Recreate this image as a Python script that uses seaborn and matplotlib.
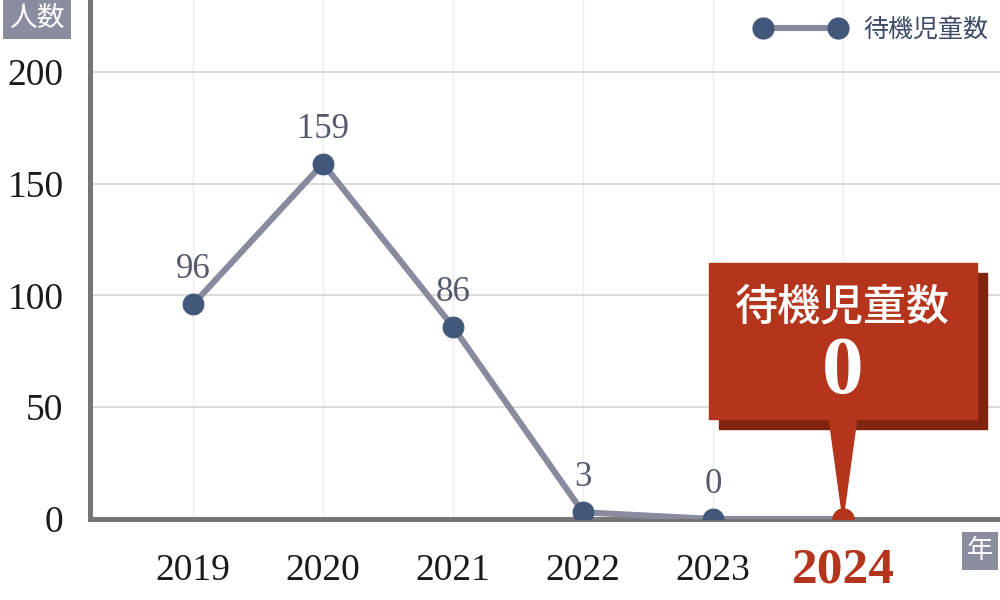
# 待機児童数の推移 (2019-2024)

import matplotlib
matplotlib.use("Agg")
import matplotlib.pyplot as plt
from matplotlib.patches import Rectangle, Polygon
from matplotlib.lines import Line2D
import pandas as pd
import seaborn as sns

# data
years = ["2019", "2020", "2021", "2022", "2023", "2024"]
waiting = [96, 159, 86, 3, 0, 0]
y_ticks = [0, 50, 100, 150, 200]
series_name = "待機児童数"

df = pd.DataFrame({"pos": range(len(years)), "year": years, "count": waiting})

sns.set_style("white")
plt.rcParams["font.family"] = ["Liberation Serif", "Noto Sans CJK JP"]

LINE = "#888a9e"
DOT = "#42587a"
RED = "#b5341c"
SHADOW = "#80240e"
SPINE = "#767676"
LABEL = "#545a6c"

fig = plt.figure(figsize=(10, 6), dpi=100)
ax = fig.add_axes([0.09, 81 / 600, 0.91, 519 / 600])

# faint grid
for i in df["pos"]:
    ax.axvline(i, color="#eeeeee", lw=1, zorder=0)
for t in y_ticks[1:]:
    ax.axhline(t, color="#d6d6d6", lw=1.2, zorder=0)

sns.lineplot(data=df, x="pos", y="count", ax=ax, color=LINE, lw=4.4,
             marker="o", markersize=15, markerfacecolor=DOT,
             markeredgecolor=DOT, zorder=3)
last = df.iloc[[-1]]
sns.scatterplot(data=last, x="pos", y="count", ax=ax, color=RED, s=220,
                edgecolor=RED, zorder=4)

# value labels
for _, r in df.iloc[:-1].iterrows():
    ax.annotate(str(r["count"]), (r["pos"], r["count"]), xytext=(0, 13),
                textcoords="offset points", ha="center", va="bottom",
                fontsize=25, color=LABEL, family="Liberation Serif")

ax.set_xlim(-0.792, 6.208)
ax.set_ylim(0, 232.2)
ax.set_xticks(df["pos"])
ax.set_xticklabels(years)
ax.set_yticks(y_ticks)
ax.set_xlabel("")
ax.set_ylabel("")
ax.tick_params(axis="both", length=0, labelsize=27, labelcolor="#1a1a1a")
ax.tick_params(axis="y", pad=19)
ax.tick_params(axis="x", pad=37)
for lab in ax.get_xticklabels():
    lab.set_va("center")
    if lab.get_text() == "2024":
        lab.set_color(RED)
        lab.set_fontweight("bold")
        lab.set_fontsize(37)

for s in ["top", "right"]:
    ax.spines[s].set_visible(False)
for s in ["left", "bottom"]:
    ax.spines[s].set_color(SPINE)
    ax.spines[s].set_linewidth(3.6)
    ax.spines[s].set_zorder(2)

# legend
handle = Line2D([], [], color=LINE, lw=4.4, marker="o", markersize=15,
                markerfacecolor=DOT, markeredgecolor=DOT)
leg = ax.legend([handle], [series_name], loc="upper right", numpoints=2,
                handlelength=3.6, handletextpad=0.75, frameon=False,
                bbox_to_anchor=(1.0, 0.99), borderaxespad=0.05,
                prop={"family": "Noto Sans CJK JP", "size": 18})
for t in leg.get_texts():
    t.set_color("#3c4a66")

# callout above the 2024 point (pixel coords)
fig.canvas.draw()
px, py = ax.transData.transform((df["pos"].iloc[-1], df["count"].iloc[-1]))
bw, bh = 268, 156
bx, by = px - bw / 2, py + 100
fig.add_artist(Rectangle((bx + 10, by - 10), bw, bh, transform=None,
                         color=SHADOW, zorder=5))
fig.add_artist(Polygon([(px - 14, by + 2), (px + 14, by + 2), (px, py)],
                       closed=True, transform=None, color=RED, zorder=6))
fig.add_artist(Rectangle((bx, by), bw, bh, transform=None, color=RED,
                         zorder=6))
fig.text(px / 1000, (by + 112) / 600, series_name, ha="center", va="center",
         color="white", fontsize=31, fontweight="medium",
         family="Noto Sans CJK JP", zorder=7)
fig.text(px / 1000, (by + 46) / 600, str(waiting[-1]), ha="center",
         va="center", color="white", fontsize=60, fontweight="bold",
         family="Liberation Serif", zorder=7)

# axis unit boxes
fig.text(37 / 1000, 1 - 18 / 600, "人数", ha="center", va="center",
         color="white", fontsize=20, family="Noto Sans CJK JP",
         bbox=dict(boxstyle="square,pad=0.22", fc="#8a8ca0", ec="none"))
fig.text(980 / 1000, 1 - 551 / 600, "年", ha="center", va="center",
         color="white", fontsize=19, family="Noto Sans CJK JP",
         bbox=dict(boxstyle="square,pad=0.2", fc="#8a8ca0", ec="none"))

fig.savefig("out.png", dpi=100)
plt.close()
